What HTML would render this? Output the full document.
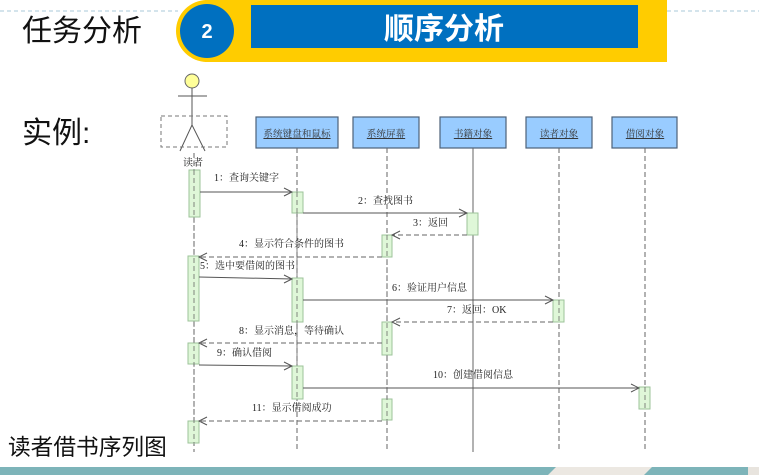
<!DOCTYPE html>
<html><head><meta charset="utf-8"><style>
html,body{margin:0;padding:0;background:#fff;}
svg{display:block;}
.t{font-family:"Liberation Serif","Noto Serif CJK SC",serif;font-size:10px;fill:#222;}
.o{font-family:"Liberation Serif","Noto Serif CJK SC",serif;font-size:9.6px;fill:#333;text-decoration:underline;}
.s{stroke:#555;stroke-width:1;fill:none;}
.d{stroke:#666;stroke-width:1;fill:none;stroke-dasharray:5,3;}
.a{fill:#dff7d8;stroke:#9cc39a;stroke-width:1;}
.b{fill:#99ccff;stroke:#4d6179;stroke-width:1.2;}
</style></head><body>
<svg width="759" height="475" viewBox="0 0 759 475" xmlns="http://www.w3.org/2000/svg">
<!-- top dashed rules -->
<line x1="0" y1="11" x2="178" y2="11" stroke="#a9c8d8" stroke-dasharray="4,3"/>
<line x1="667" y1="11" x2="759" y2="11" stroke="#a9c8d8" stroke-dasharray="4,3"/>
<!-- header -->
<rect x="205" y="0" width="462" height="62" fill="#ffcc00"/>
<circle cx="207" cy="31" r="31" fill="#ffcc00"/>
<circle cx="207" cy="31" r="27" fill="#0070c0"/>
<text x="207" y="38" text-anchor="middle" font-family="Liberation Sans,sans-serif" font-weight="bold" font-size="20" fill="#fff">2</text>
<rect x="251" y="5" width="387" height="43" fill="#0070c0"/>
<text x="444" y="39" text-anchor="middle" font-family="'Liberation Sans','Noto Sans CJK SC',sans-serif" font-weight="bold" font-size="30" fill="#fff">顺序分析</text>
<text x="22" y="41" font-family="'Liberation Sans','Noto Sans CJK SC',sans-serif" font-size="30" fill="#111">任务分析</text>
<text x="22" y="143" font-family="'Liberation Sans','Noto Sans CJK SC',sans-serif" font-size="30" fill="#111">实例:</text>
<text x="8" y="455" font-family="'Liberation Sans','Noto Sans CJK SC',sans-serif" font-size="22.7" fill="#111">读者借书序列图</text>

<!-- actor -->
<circle cx="192" cy="81" r="7" fill="#ffff99" stroke="#666"/>
<line x1="192" y1="88" x2="192" y2="125" class="s"/>
<line x1="178" y1="96" x2="207" y2="96" class="s"/>
<line x1="192" y1="125" x2="180" y2="151" class="s"/>
<line x1="192" y1="125" x2="205" y2="151" class="s"/>
<rect x="161" y="116" width="66" height="31" fill="none" stroke="#777" stroke-dasharray="4,3"/>
<text x="193" y="166" text-anchor="middle" class="t">读者</text>

<!-- object boxes -->
<rect x="256" y="117" width="82" height="31" class="b"/>
<text x="297" y="137" text-anchor="middle" class="o">系统键盘和鼠标</text>
<rect x="353" y="117" width="66" height="31" class="b"/>
<text x="386" y="137" text-anchor="middle" class="o">系统屏幕</text>
<rect x="440" y="117" width="66" height="31" class="b"/>
<text x="473" y="137" text-anchor="middle" class="o">书籍对象</text>
<rect x="526" y="117" width="66" height="31" class="b"/>
<text x="559" y="137" text-anchor="middle" class="o">读者对象</text>
<rect x="612" y="117" width="65" height="31" class="b"/>
<text x="645" y="137" text-anchor="middle" class="o">借阅对象</text>

<!-- lifelines -->
<line x1="194" y1="153" x2="194" y2="452" class="d"/>
<line x1="297" y1="148" x2="297" y2="452" class="d"/>
<line x1="387" y1="148" x2="387" y2="452" class="d"/>
<line x1="473" y1="148" x2="473" y2="452" stroke="#666" stroke-width="1"/>
<line x1="559" y1="148" x2="559" y2="452" class="d"/>
<line x1="645" y1="148" x2="645" y2="452" class="d"/>

<!-- activations -->
<rect x="189" y="170" width="11" height="47" class="a"/>
<rect x="292" y="192" width="11" height="21" class="a"/>
<rect x="467" y="213" width="11" height="22" class="a"/>
<rect x="382" y="235" width="10" height="22" class="a"/>
<rect x="188" y="256" width="11" height="65" class="a"/>
<rect x="292" y="278" width="11" height="44" class="a"/>
<rect x="553" y="300" width="11" height="22" class="a"/>
<rect x="382" y="322" width="10" height="33" class="a"/>
<rect x="188" y="343" width="11" height="21" class="a"/>
<rect x="292" y="366" width="11" height="33" class="a"/>
<rect x="639" y="387" width="11" height="22" class="a"/>
<rect x="382" y="399" width="10" height="21" class="a"/>
<rect x="188" y="421" width="11" height="22" class="a"/>
<g opacity="0.8">
<line x1="194" y1="170" x2="194" y2="443" class="d"/>
<line x1="297" y1="192" x2="297" y2="399" class="d"/>
<line x1="387" y1="235" x2="387" y2="420" class="d"/>
<line x1="559" y1="300" x2="559" y2="322" class="d"/>
<line x1="645" y1="387" x2="645" y2="409" class="d"/>
</g>

<!-- messages -->
<line x1="200" y1="192" x2="292" y2="192" class="s"/><polyline points="284,188 292,192 284,196" class="s"/>
<text x="214" y="181" class="t">1：查询关键字</text>
<line x1="303" y1="213" x2="467" y2="213" class="s"/><polyline points="459,209 467,213 459,217" class="s"/>
<text x="358" y="204" class="t">2：查找图书</text>
<line x1="467" y1="235" x2="392" y2="235" class="d"/><polyline points="400,231 392,235 400,239" class="s"/>
<text x="413" y="226" class="t">3：返回</text>
<line x1="382" y1="257" x2="199" y2="257" class="d"/><polyline points="207,253 199,257 207,261" class="s"/>
<text x="239" y="247" class="t">4：显示符合条件的图书</text>
<line x1="199" y1="277" x2="292" y2="279" class="s"/><polyline points="284,275 292,279 284,283" class="s"/>
<text x="200" y="269" class="t">5：选中要借阅的图书</text>
<line x1="303" y1="300" x2="553" y2="300" class="s"/><polyline points="545,296 553,300 545,304" class="s"/>
<text x="392" y="291" class="t">6：验证用户信息</text>
<line x1="553" y1="322" x2="392" y2="322" class="d"/><polyline points="400,318 392,322 400,326" class="s"/>
<text x="447" y="313" class="t">7：返回：OK</text>
<line x1="382" y1="343" x2="199" y2="343" class="d"/><polyline points="207,339 199,343 207,347" class="s"/>
<text x="239" y="334" class="t">8：显示消息，等待确认</text>
<line x1="199" y1="365" x2="292" y2="366" class="s"/><polyline points="284,362 292,366 284,370" class="s"/>
<text x="217" y="356" class="t">9：确认借阅</text>
<line x1="303" y1="388" x2="639" y2="388" class="s"/><polyline points="631,384 639,388 631,392" class="s"/>
<text x="433" y="378" class="t">10：创建借阅信息</text>
<line x1="382" y1="421" x2="199" y2="421" class="d"/><polyline points="207,417 199,421 207,425" class="s"/>
<text x="252" y="411" class="t">11：显示借阅成功</text>

<!-- bottom strip -->
<rect x="0" y="467" width="759" height="8" fill="#7db4b9"/>
<polygon points="548,475 556,467 652,467 644,475" fill="#ece8e2"/>
<rect x="748" y="467" width="11" height="8" fill="#e8e4de"/>
</svg>
</body></html>
